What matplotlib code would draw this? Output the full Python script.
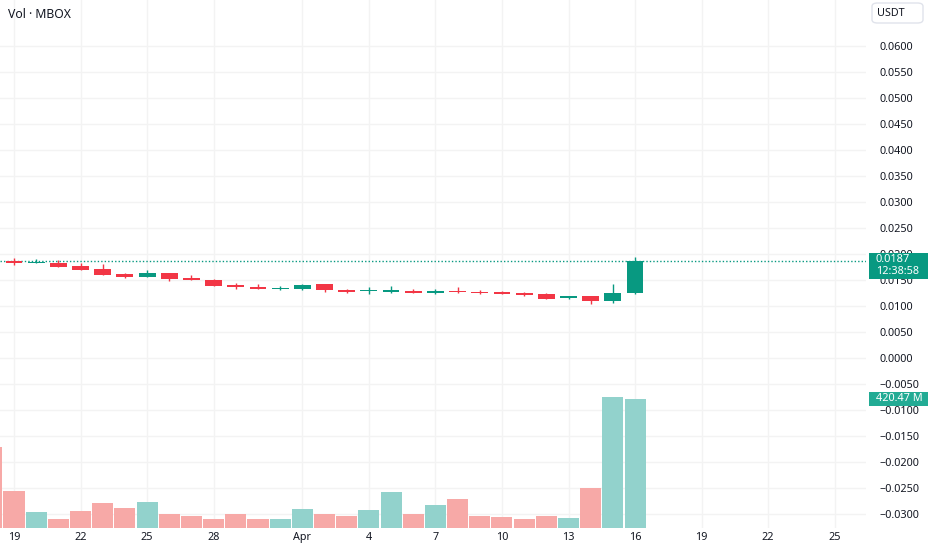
import matplotlib
matplotlib.use("Agg")
import matplotlib.pyplot as plt
import matplotlib.dates as mdates
from matplotlib.patches import Rectangle, FancyBboxPatch
import numpy as np
import pandas as pd

plt.rcParams['font.family'] = ['Noto Sans', 'DejaVu Sans']

# daily candles, Mar 19 .. Apr 16
dates = pd.to_datetime([
    '2025-03-19', '2025-03-20', '2025-03-21', '2025-03-22', '2025-03-23',
    '2025-03-24', '2025-03-25', '2025-03-26', '2025-03-27', '2025-03-28',
    '2025-03-29', '2025-03-30', '2025-03-31', '2025-04-01', '2025-04-02',
    '2025-04-03', '2025-04-04', '2025-04-05', '2025-04-06', '2025-04-07',
    '2025-04-08', '2025-04-09', '2025-04-10', '2025-04-11', '2025-04-12',
    '2025-04-13', '2025-04-14', '2025-04-15', '2025-04-16'])
opens = [0.01871, 0.01823, 0.01833, 0.01763, 0.01712, 0.01610, 0.01564, 0.01629,
         0.01533, 0.01506, 0.01404, 0.01365, 0.01327, 0.01333, 0.01417, 0.01308,
         0.01288, 0.01269, 0.01295, 0.01250, 0.01288, 0.01275, 0.01275, 0.01256,
         0.01237, 0.01154, 0.01186, 0.01102, 0.01244]
highs = [0.01929, 0.01904, 0.01885, 0.01827, 0.01808, 0.01635, 0.01686, 0.01635,
         0.01596, 0.01510, 0.01437, 0.01423, 0.01378, 0.01429, 0.01420, 0.01333,
         0.01360, 0.01378, 0.01321, 0.01321, 0.01365, 0.01308, 0.01295, 0.01276,
         0.01256, 0.01192, 0.01190, 0.01417, 0.01936]
lows = [0.01783, 0.01820, 0.01750, 0.01692, 0.01596, 0.01538, 0.01560, 0.01487,
        0.01500, 0.01390, 0.01321, 0.01333, 0.01308, 0.01314, 0.01275, 0.01250,
        0.01237, 0.01244, 0.01250, 0.01231, 0.01244, 0.01231, 0.01230, 0.01195,
        0.01140, 0.01128, 0.01038, 0.01064, 0.01240]
closes = [0.01821, 0.01842, 0.01750, 0.01692, 0.01596, 0.01564, 0.01629, 0.01525,
          0.01500, 0.01390, 0.01360, 0.01333, 0.01346, 0.01404, 0.01308, 0.01275,
          0.01308, 0.01301, 0.01250, 0.01282, 0.01263, 0.01250, 0.01237, 0.01218,
          0.01140, 0.01192, 0.01102, 0.01250, 0.01871]

# volume in millions, starts one day earlier (Mar 18, a down day)
vol_first_date = pd.to_datetime('2025-03-18')
vol_first = 263
vol_first_up = False
volumes = [119, 51, 30, 56, 82, 65, 84, 46, 38, 30, 46, 28, 28, 61, 44, 40,
           57, 116, 44, 74, 95, 38, 35, 30, 38, 32, 129, 427, 420.47]

last_price = 0.0187
last_price_text = '0.0187'
countdown = '12:38:58'
last_vol_text = '420.47 M'

x_tick_dates = pd.to_datetime([
    '2025-03-19', '2025-03-22', '2025-03-25', '2025-03-28', '2025-04-01',
    '2025-04-04', '2025-04-07', '2025-04-10', '2025-04-13', '2025-04-16',
    '2025-04-19', '2025-04-22', '2025-04-25'])
x_tick_labels = ['19', '22', '25', '28', 'Apr', '4', '7', '10', '13', '16',
                 '19', '22', '25']

UP = '#089981'
DOWN = '#F23645'
VOL_UP = '#92D2CC'
VOL_DOWN = '#F7A9A7'
TEXT = '#131722'
GRID = '#F3F3F3'

W, H = 932, 550
fig = plt.figure(figsize=(W / 100, H / 100), dpi=100)
ax_left, ax_right, ax_top, ax_bot = 0, 866, 0, 528
pos = [ax_left / W, 1 - ax_bot / H, (ax_right - ax_left) / W, (ax_bot - ax_top) / H]
ax = fig.add_axes(pos)
axv = fig.add_axes(pos, sharex=ax)
axv.patch.set_alpha(0)

x = mdates.date2num(dates)
day = 1.0
x0 = mdates.date2num(pd.to_datetime('2025-03-19'))
ax.set_xlim(x0 - 14 / 22.18, x0 + (866 - 14) / 22.18)
ax.set_ylim(-0.03269, 0.06885)

# grid
for t in mdates.date2num(x_tick_dates):
    ax.axvline(t, color=GRID, lw=1, zorder=0)
yticks = np.round(np.arange(-0.03, 0.0601, 0.005), 4)
for t in yticks:
    ax.axhline(t, color=GRID, lw=1, zorder=0)

# candles
up = np.array(closes) >= np.array(opens)
for xi, o, h, l, c, u in zip(x, opens, highs, lows, closes, up):
    col = UP if u else DOWN
    ax.vlines(xi, l, h, color=col, lw=1, zorder=3)
    bot = min(o, c)
    hgt = max(abs(c - o), 0.00012)
    ax.bar(xi, hgt, bottom=bot, width=0.76 * day, color=col, zorder=4, linewidth=0)

# last price dotted line
ax.axhline(last_price, color=UP, lw=1, ls=(0, (1, 1.5)), zorder=2)

# volume overlay
vx = np.concatenate([[mdates.date2num(vol_first_date)], x])
vv = [vol_first] + volumes
vcol = [VOL_UP if vol_first_up else VOL_DOWN] + [VOL_UP if u else VOL_DOWN for u in up]
axv.bar(vx, vv, width=0.95 * day, color=vcol, linewidth=0, zorder=1)
axv.set_ylim(0, 1717)
axv.set_yticks([])
axv.tick_params(axis='x', which='both', bottom=False, labelbottom=False)
for s in axv.spines.values():
    s.set_visible(False)

# axes styling
for s in ax.spines.values():
    s.set_visible(False)
ax.yaxis.tick_right()
ax.set_yticks(yticks)
ax.set_yticklabels([f'{v:.4f}'.replace('-', '\u2212') for v in yticks])
ax.set_xticks(mdates.date2num(x_tick_dates))
ax.set_xticklabels(x_tick_labels)
ax.tick_params(axis='x', length=0, pad=3, labelsize=7.8, labelcolor=TEXT)
ax.tick_params(axis='y', length=0, pad=10, labelsize=7.8, labelcolor=TEXT)
for lbl in ax.get_xticklabels():
    if lbl.get_text() == 'Apr':
        lbl.set_fontweight('bold')
for lbl in ax.get_yticklabels():
    lbl.set_horizontalalignment('left')

# legend title
fig.text(8 / W, 1 - 14 / H, 'Vol \u00b7 MBOX', fontsize=8.8, color=TEXT,
         va='center', ha='left')

# currency box
fig.add_artist(FancyBboxPatch((872 / W, 1 - 23 / H), 51 / W, 20 / H,
                              boxstyle='round,pad=0,rounding_size=0.006',
                              transform=fig.transFigure, facecolor='white',
                              edgecolor='#E0E3EB', lw=1))
fig.text(877 / W, 1 - 13 / H, 'USDT', fontsize=7.8, color=TEXT, va='center')

# price badge
fig.canvas.draw()
py = H - ax.transData.transform((x0, last_price))[1]
fig.add_artist(Rectangle((869 / W, 1 - (py + 18) / H), 59 / W, 26 / H,
                         transform=fig.transFigure, facecolor=UP, edgecolor='none'))
fig.text(876 / W, 1 - (py - 1) / H, last_price_text, fontsize=8, color='white',
         va='center', fontweight='bold')
fig.text(876 / W, 1 - (py + 11) / H, countdown, fontsize=7.8, color='white', va='center')

# volume badge
vy = H - axv.transData.transform((x0, volumes[-1]))[1]
fig.add_artist(Rectangle((869 / W, 1 - (vy + 7) / H), 59 / W, 14 / H,
                         transform=fig.transFigure, facecolor='#22AB94', edgecolor='none'))
fig.text(876 / W, 1 - vy / H, last_vol_text, fontsize=7.8, color='white',
         va='center', fontweight='bold')

fig.savefig('out.png', dpi=100)
